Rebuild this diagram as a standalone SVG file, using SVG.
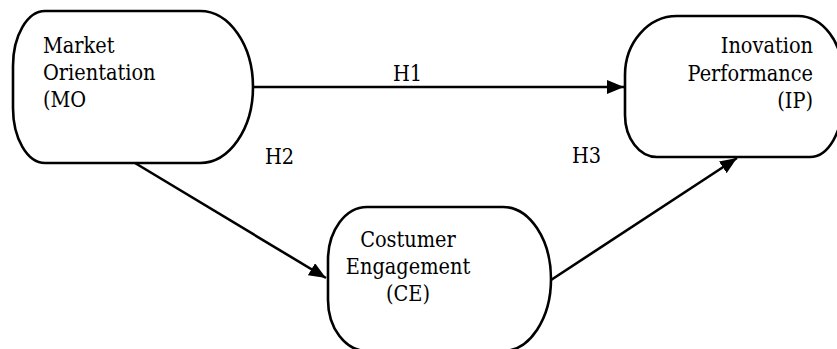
<svg xmlns="http://www.w3.org/2000/svg" width="837" height="349" viewBox="0 0 837 349">
<style>
.node{fill:#fff;stroke:#000;stroke-width:2.6}
.edge{fill:none;stroke:#000;stroke-width:2.6}
.t{font-family:'DejaVu Serif Condensed','DejaVu Serif',serif;font-stretch:condensed;font-size:21.5px;fill:#000}
</style>
<defs>
<marker id="arr" markerUnits="userSpaceOnUse" markerWidth="19" markerHeight="15" refX="17" refY="7" orient="auto">
<path d="M0,0 L17,7 L0,14 Z" fill="#000"/>
</marker>
</defs>
<rect width="837" height="349" fill="#fff"/>
<g id="connectors">
<line class="edge" x1="253" y1="87" x2="624" y2="87" marker-end="url(#arr)"/>
<line class="edge" x1="135" y1="163" x2="326" y2="278" marker-end="url(#arr)"/>
<line class="edge" x1="551" y1="280" x2="737" y2="158" marker-end="url(#arr)"/>
<g class="t">
<text x="393" y="81">H1</text>
<text x="265" y="164">H2</text>
<text x="572" y="163">H3</text>
</g>
</g>
<g id="MO">
<path class="node" d="M45,11 H200 A53,76 0 0 1 253,87 A53,76 0 0 1 200,163 H45 A32,55 0 0 1 13,108 V66 A32,55 0 0 1 45,11 Z"/>
<g class="t">
<text x="43" y="53">Market</text>
<text x="43" y="80">Orientation</text>
<text x="43" y="107">(MO</text>
</g>
</g>
<g id="IP">
<path class="node" d="M677,16 H798 A45,60 0 0 1 843,76 V100 A33,57 0 0 1 810,157 H657 A32,42 0 0 1 625,115 V75 A52,59 0 0 1 677,16 Z"/>
<g class="t" text-anchor="end">
<text x="813" y="53">Inovation</text>
<text x="813" y="81">Performance</text>
<text x="813" y="108">(IP)</text>
</g>
</g>
<g id="CE">
<path class="node" d="M367,207 H503 A48,72 0 0 1 551,279 A48,72 0 0 1 503,351 H367 A39,51 0 0 1 328,300 V260 A39,53 0 0 1 367,207 Z"/>
<g class="t" text-anchor="middle">
<text x="408" y="247">Costumer</text>
<text x="408" y="274">Engagement</text>
<text x="408" y="301">(CE)</text>
</g>
</g>
</svg>
